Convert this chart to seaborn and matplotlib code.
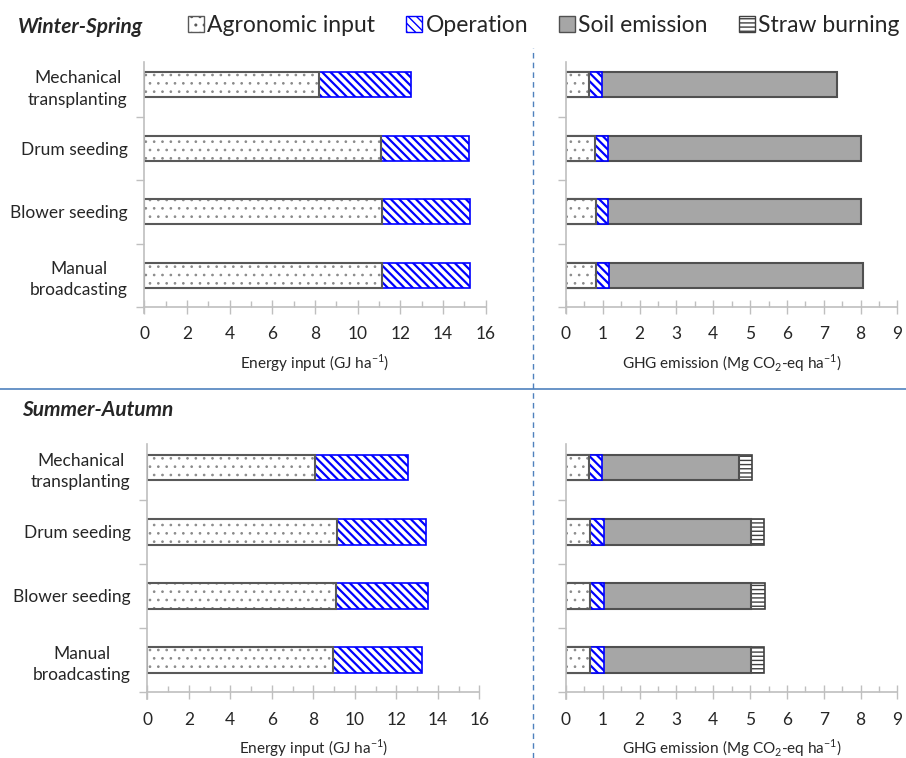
import matplotlib.pyplot as plt
import pandas as pd
import seaborn as sns
from matplotlib.patches import Patch
from matplotlib.lines import Line2D
from matplotlib.ticker import MultipleLocator, FixedLocator

sns.set_style('white')
plt.rcParams['font.family'] = ['Lato', 'DejaVu Sans']
plt.rcParams['hatch.linewidth'] = 1.0

# Data
methods = ['Mechanical\ntransplanting', 'Drum seeding', 'Blower seeding', 'Manual\nbroadcasting']
components = ['Agronomic input', 'Operation', 'Soil emission', 'Straw burning']

# Winter-Spring
ws_energy_agro = [8.19, 11.08, 11.12, 11.15]
ws_energy_oper = [4.29, 4.15, 4.16, 4.13]
ws_ghg_agro = [0.63, 0.80, 0.81, 0.81]
ws_ghg_oper = [0.36, 0.35, 0.34, 0.35]
ws_ghg_soil = [6.36, 6.86, 6.86, 6.90]
ws_ghg_straw = [0.0, 0.0, 0.0, 0.0]

# Summer-Autumn
sa_energy_agro = [8.10, 9.14, 9.08, 8.95]
sa_energy_oper = [4.46, 4.31, 4.43, 4.30]
sa_ghg_agro = [0.63, 0.66, 0.66, 0.66]
sa_ghg_oper = [0.35, 0.36, 0.36, 0.36]
sa_ghg_soil = [3.72, 4.00, 4.00, 4.00]
sa_ghg_straw = [0.36, 0.36, 0.38, 0.36]

# hatch drawn in hcolor, outline drawn on top in edgecolor
styles = {
    'Agronomic input': dict(color='white', hcolor='#8a8a8a', edgecolor='#595959', hatch='..', lw=1.5, hlw=0.7),
    'Operation': dict(color='white', hcolor='#0000ff', edgecolor='#0000ff', hatch='\\\\\\\\', lw=1.2, hlw=1.6),
    'Soil emission': dict(color='#a6a6a6', hcolor='#505050', edgecolor='#505050', hatch='', lw=1.5, hlw=1.0),
    'Straw burning': dict(color='white', hcolor='#404040', edgecolor='#404040', hatch='----', lw=1.2, hlw=1.0),
}

grid = '#bfbfbf'


def stacked(ax, parts):
    names = components[:len(parts)]
    df = pd.DataFrame({'method': methods})
    cum = pd.Series([0.0] * len(methods))
    for name, vals in zip(names, parts):
        cum = cum + pd.Series(vals)
        df[name] = cum
    # draw cumulative totals from the longest down, so each segment shows
    for name in reversed(names):
        st = styles[name]
        n0 = len(ax.patches)
        with plt.rc_context({'hatch.linewidth': st['hlw']}):
            sns.barplot(data=df, x=name, y='method', orient='h', ax=ax, width=0.4,
                        color=st['color'], edgecolor=st['hcolor'], hatch=st['hatch'],
                        linewidth=0, saturation=1, errorbar=None)
        for p in ax.patches[n0:]:
            if hasattr(p, 'set_hatch_linewidth'):
                p.set_hatch_linewidth(st['hlw'])
        # outline
        sns.barplot(data=df, x=name, y='method', orient='h', ax=ax, width=0.4,
                    color=st['edgecolor'], fill=False, linewidth=st['lw'],
                    saturation=1, errorbar=None)


def style_axis(ax, xmax, major, xlabel, show_labels):
    ax.set_xlim(0, xmax)
    ax.set_ylim(3.5, -0.5)
    ax.xaxis.set_major_locator(MultipleLocator(major))
    ax.xaxis.set_minor_locator(MultipleLocator(major / 2))
    ax.yaxis.set_minor_locator(FixedLocator([0.5, 1.5, 2.5, 3.5]))
    ax.tick_params(axis='x', which='major', direction='inout', length=10, width=1,
                   color=grid, labelsize=12.5, pad=9, bottom=True)
    ax.tick_params(axis='x', which='minor', direction='in', length=4, width=1,
                   color=grid, bottom=True)
    ax.tick_params(axis='y', which='major', length=0, labelsize=12.5, pad=12)
    ax.tick_params(axis='y', which='minor', direction='out', length=6, width=1,
                   color=grid, left=True)
    for s in ['top', 'right']:
        ax.spines[s].set_visible(False)
    for s in ['left', 'bottom']:
        ax.spines[s].set_color(grid)
        ax.spines[s].set_linewidth(1.2)
    ax.spines['left'].set_bounds(3.6, -0.36)
    ax.set_ylabel('')
    ax.set_xlabel(xlabel, fontsize=11, labelpad=7)
    if show_labels:
        for t in ax.get_yticklabels():
            t.set_multialignment('center')
            t.set_linespacing(1.4)
    else:
        ax.set_yticklabels([])
    ax.grid(False)


fig = plt.figure(figsize=(9.06, 7.58), dpi=100)

ax_ws_e = fig.add_axes([0.1593, 0.595, 0.3769, 0.335])
ax_ws_g = fig.add_axes([0.6247, 0.595, 0.3659, 0.335])
ax_sa_e = fig.add_axes([0.1626, 0.0867, 0.3664, 0.3388])
ax_sa_g = fig.add_axes([0.6247, 0.0867, 0.3659, 0.3388])

stacked(ax_ws_e, [ws_energy_agro, ws_energy_oper])
stacked(ax_ws_g, [ws_ghg_agro, ws_ghg_oper, ws_ghg_soil, ws_ghg_straw])
stacked(ax_sa_e, [sa_energy_agro, sa_energy_oper])
stacked(ax_sa_g, [sa_ghg_agro, sa_ghg_oper, sa_ghg_soil, sa_ghg_straw])

e_label = 'Energy input (GJ ha$^{\\mathregular{-1}}$)'
g_label = 'GHG emission (Mg CO$_{\\mathregular{2}}$-eq ha$^{\\mathregular{-1}}$)'
style_axis(ax_ws_e, 16, 2, e_label, True)
style_axis(ax_ws_g, 9, 1, g_label, False)
style_axis(ax_sa_e, 16, 2, e_label, True)
style_axis(ax_sa_g, 9, 1, g_label, False)

# Season titles
fig.text(0.02, 0.964, 'Winter-Spring', fontsize=15, fontweight='bold',
         fontstyle='italic', va='center', ha='left')
fig.text(0.024, 0.459, 'Summer-Autumn', fontsize=15, fontweight='bold',
         fontstyle='italic', va='center', ha='left')

# Legend
handles = [Patch(facecolor=styles[c]['color'], edgecolor=styles[c]['edgecolor'],
                 hatch=styles[c]['hatch'], linewidth=1) for c in components]
fig.legend(handles, components, loc='center left', bbox_to_anchor=(0.207, 0.966),
           ncol=4, frameon=False, fontsize=16.5, handlelength=0.7, handleheight=0.7,
           handletextpad=0.15, columnspacing=1.35, borderaxespad=0, borderpad=0)

# Separator lines
fig.add_artist(Line2D([0, 1], [0.4868, 0.4868], transform=fig.transFigure,
                      color='#4f81bd', lw=1.2))
fig.add_artist(Line2D([0.588, 0.588], [0, 0.937], transform=fig.transFigure,
                      color='#4f81bd', lw=1, linestyle=(0, (4, 3))))

fig.savefig('out.png', dpi=100)
